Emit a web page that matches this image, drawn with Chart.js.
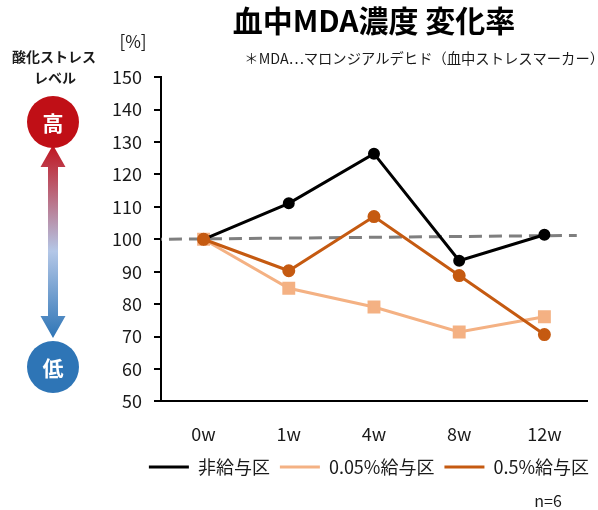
<!DOCTYPE html>
<html>
<head>
<meta charset="utf-8">
<script src="https://cdn.jsdelivr.net/npm/chart.js@4.4.0/dist/chart.umd.min.js"></script>
<style>
  html, body { margin: 0; padding: 0; background: #fff; }
  #wrap { width: 598px; height: 510px; }
</style>
</head>
<body>
<div id="wrap"><canvas id="myChart" width="598" height="510"></canvas></div>
<script>
// data
var weeks = ["0w", "1w", "4w", "8w", "12w"];
var seriesNames = ["非給与区", "0.05%給与区", "0.5%給与区"];
var control = [100, 111.1, 126.4, 93.4, 101.4];
var dose005 = [100, 84.9, 79.1, 71.4, 76.1];
var dose05 = [100, 90.3, 107, 88.8, 70.6];
var refLineX = [-0.5, 4.38];
var refLineY = [100, 101.2];
var yTicks = [50, 150, 10]; // min, max, step

var titleText = "血中MDA濃度 変化率";
var noteText = "＊MDA…マロンジアルデヒド（血中ストレスマーカー）";

var FONT = "'Noto Sans CJK JP', 'Noto Sans', sans-serif";
Chart.defaults.font.family = FONT;
Chart.defaults.color = "#1a1a1a";

function toPoints(xs, ys) {
    return ys.map(function (y, i) { return { x: xs[i], y: y }; });
}
var idx = weeks.map(function (w, i) { return i; });

// push the note and the legend a bit to the right, like the original
var nudge = {
    id: "nudge",
    afterLayout: function (chart) {
        chart.boxes.forEach(function (box) {
            if (box.options && box.options.text === noteText) {
                box.left += 17;
                box.right += 17;
            }
        });
        if (chart.legend) {
            chart.legend.left += 12;
            chart.legend.right += 12;
        }
    }
};

// left side decorations: stress level scale, [%] and n=6
var sidePanel = {
    id: "sidePanel",
    afterDraw: function (chart) {
        var ctx = chart.ctx;
        ctx.save();
        ctx.fillStyle = "#1a1a1a";
        ctx.textAlign = "center";
        ctx.textBaseline = "middle";
        ctx.font = "bold 14px " + FONT;
        ctx.fillText("酸化ストレス", 54, 57);
        ctx.fillText("レベル", 55, 78);

        ctx.font = "17px " + FONT;
        ctx.fillText("[%]", 133, 42);
        ctx.font = "16px " + FONT;
        ctx.fillText("n=6", 548, 501);

        // arrow
        var cx = 53, top = 145, bottom = 338, head = 22, hw = 12.5, sw = 5;
        var g = ctx.createLinearGradient(0, top, 0, bottom);
        g.addColorStop(0, "#c0141e");
        g.addColorStop(0.55, "#b4c7e7");
        g.addColorStop(1, "#2e75b6");
        ctx.fillStyle = g;
        ctx.beginPath();
        ctx.moveTo(cx, top);
        ctx.lineTo(cx + hw, top + head);
        ctx.lineTo(cx + sw, top + head);
        ctx.lineTo(cx + sw, bottom - head);
        ctx.lineTo(cx + hw, bottom - head);
        ctx.lineTo(cx, bottom);
        ctx.lineTo(cx - hw, bottom - head);
        ctx.lineTo(cx - sw, bottom - head);
        ctx.lineTo(cx - sw, top + head);
        ctx.lineTo(cx - hw, top + head);
        ctx.closePath();
        ctx.fill();

        // circles
        ctx.fillStyle = "#c00f16";
        ctx.beginPath();
        ctx.arc(53, 122, 26, 0, Math.PI * 2);
        ctx.fill();
        ctx.fillStyle = "#2e75b6";
        ctx.beginPath();
        ctx.arc(53, 367, 26, 0, Math.PI * 2);
        ctx.fill();
        ctx.fillStyle = "#fff";
        ctx.font = "bold 21px " + FONT;
        ctx.fillText("高", 53, 123);
        ctx.fillText("低", 53, 368);
        ctx.restore();
    }
};

var ctx = document.getElementById("myChart").getContext("2d");
var mixedChart = new Chart(ctx, {
    type: "line",
    data: {
        datasets: [
            {
                label: seriesNames[0],
                data: toPoints(idx, control),
                borderColor: "#000000",
                backgroundColor: "#000000",
                borderWidth: 3,
                pointStyle: "circle",
                pointRadius: 4.5,
                order: 1
            },
            {
                label: seriesNames[1],
                data: toPoints(idx, dose005),
                borderColor: "#f4b183",
                backgroundColor: "#f4b183",
                borderWidth: 3,
                pointStyle: "rect",
                pointRadius: 7,
                order: 2
            },
            {
                label: seriesNames[2],
                data: toPoints(idx, dose05),
                borderColor: "#c55a11",
                backgroundColor: "#c55a11",
                borderWidth: 3,
                pointStyle: "circle",
                pointRadius: 5,
                order: 0
            },
            {
                label: "ref",
                data: toPoints(refLineX, refLineY),
                borderColor: "#7f7f7f",
                borderWidth: 3,
                borderDash: [13, 7],
                borderDashOffset: -8,
                pointRadius: 0,
                order: 3
            }
        ]
    },
    options: {
        responsive: false,
        animation: false,
        layout: { padding: { left: 100, right: 11, top: 0, bottom: 24 } },
        scales: {
            x: {
                type: "linear",
                min: -0.5,
                max: 4.5,
                afterBuildTicks: function (axis) {
                    axis.ticks = idx.map(function (i) { return { value: i }; });
                },
                afterFit: function (axis) {
                    axis.height -= 19;
                },
                ticks: {
                    padding: 22,
                    font: { size: 18 },
                    color: "#1a1a1a",
                    callback: function (v) { return weeks[v]; }
                },
                grid: { display: false, drawTicks: false },
                border: { color: "#000", width: 2 }
            },
            y: {
                min: yTicks[0],
                max: yTicks[1],
                ticks: { stepSize: yTicks[2], padding: 12, font: { size: 18 }, color: "#1a1a1a" },
                grid: { drawOnChartArea: false, drawTicks: true, tickLength: 7, color: "#000", lineWidth: 2 },
                border: { color: "#000", width: 2 }
            }
        },
        plugins: {
            tooltip: { enabled: false },
            title: {
                display: true,
                text: titleText,
                fullSize: false,
                color: "#000",
                font: { size: 30, weight: "bold" },
                padding: { top: 3, bottom: 0 }
            },
            subtitle: {
                display: true,
                text: noteText,
                fullSize: false,
                align: "end",
                color: "#1a1a1a",
                font: { size: 14.3 },
                padding: { top: 11, bottom: 10 }
            },
            legend: {
                position: "bottom",
                fullSize: true,
                align: "end",
                labels: {
                    usePointStyle: true,
                    pointStyle: "line",
                    pointStyleWidth: 40,
                    padding: 10,
                    color: "#1a1a1a",
                    font: { size: 18 },
                    filter: function (item) { return item.datasetIndex < 3; },
                    sort: function (a, b) { return a.datasetIndex - b.datasetIndex; }
                }
            }
        }
    },
    plugins: [nudge, sidePanel]
});
</script>
</body>
</html>
